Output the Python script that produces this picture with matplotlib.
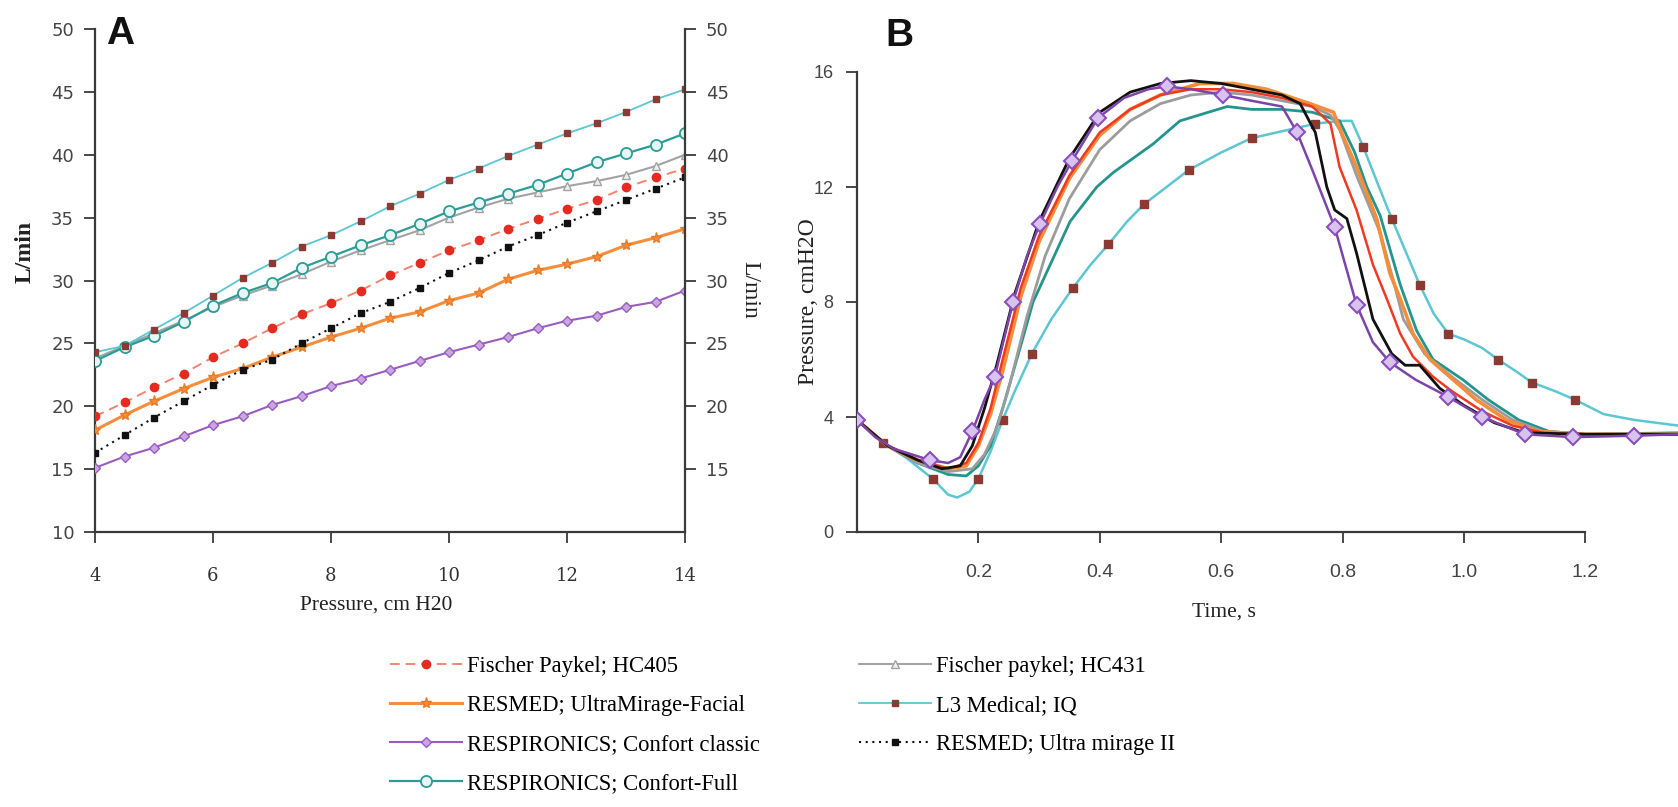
import numpy as np
import matplotlib
matplotlib.use("Agg")
import matplotlib.pyplot as plt

# ---------------- Panel A: leak flow vs pressure ----------------
pressure = [4.0, 4.5, 5.0, 5.5, 6.0, 6.5, 7.0, 7.5, 8.0, 8.5, 9.0,
            9.5, 10.0, 10.5, 11.0, 11.5, 12.0, 12.5, 13.0, 13.5, 14.0]

fp_hc405 = [19.2, 20.3, 21.5, 22.6, 23.9, 25.0, 26.2, 27.3, 28.2, 29.2, 30.4,
            31.4, 32.4, 33.2, 34.1, 34.9, 35.7, 36.4, 37.4, 38.2, 38.9]
resmed_umf = [18.1, 19.3, 20.4, 21.4, 22.3, 23.0, 23.9, 24.7, 25.5, 26.2, 27.0,
              27.5, 28.4, 29.0, 30.1, 30.8, 31.3, 31.9, 32.8, 33.4, 34.1]
resp_classic = [15.1, 16.0, 16.7, 17.6, 18.5, 19.2, 20.1, 20.8, 21.6, 22.2, 22.9,
                23.6, 24.3, 24.9, 25.5, 26.2, 26.8, 27.2, 27.9, 28.3, 29.2]
resp_full = [23.6, 24.7, 25.6, 26.7, 28.0, 29.0, 29.8, 31.0, 31.9, 32.8, 33.6,
             34.5, 35.5, 36.2, 36.9, 37.6, 38.5, 39.4, 40.1, 40.8, 41.7]
fp_hc431 = [23.8, 24.8, 25.8, 26.8, 27.9, 28.8, 29.6, 30.5, 31.5, 32.4, 33.2,
            34.0, 35.0, 35.8, 36.5, 37.0, 37.5, 37.9, 38.4, 39.1, 40.0]
l3_iq = [24.3, 24.8, 26.1, 27.4, 28.8, 30.2, 31.4, 32.7, 33.6, 34.7, 35.9,
         36.9, 38.0, 38.9, 39.9, 40.8, 41.7, 42.5, 43.4, 44.4, 45.2]
resmed_um2 = [16.3, 17.7, 19.1, 20.4, 21.7, 22.9, 23.7, 25.0, 26.2, 27.4, 28.3,
              29.4, 30.6, 31.6, 32.7, 33.6, 34.6, 35.5, 36.4, 37.3, 38.2]

labels = ["Fischer Paykel; HC405", "RESMED; UltraMirage-Facial",
          "RESPIRONICS; Confort classic", "RESPIRONICS; Confort-Full",
          "Fischer paykel; HC431", "L3 Medical; IQ", "RESMED; Ultra mirage II"]

a_xticks = [4, 6, 8, 10, 12, 14]
a_yticks_left = [10, 15, 20, 25, 30, 35, 40, 45, 50]
a_yticks_right = [15, 20, 25, 30, 35, 40, 45, 50]

# ---------------- Panel B: pressure vs time ----------------
t_purple = [0.0, 0.03, 0.06, 0.09, 0.12, 0.15, 0.17, 0.19, 0.21, 0.227, 0.257,
            0.28, 0.301, 0.33, 0.354, 0.397, 0.44, 0.48, 0.51, 0.55, 0.603, 0.65,
            0.70, 0.725, 0.75, 0.787, 0.823, 0.85, 0.878, 0.92, 0.974, 1.03,
            1.1, 1.18, 1.28, 1.353]
p_purple = [3.9, 3.3, 2.9, 2.7, 2.5, 2.4, 2.6, 3.5, 4.6, 5.4, 8.0,
            9.6, 10.7, 12.0, 12.9, 14.4, 15.1, 15.4, 15.5, 15.4, 15.2, 15.0,
            14.8, 13.9, 12.6, 10.6, 7.9, 6.6, 5.9, 5.3, 4.7, 4.0,
            3.4, 3.3, 3.35, 3.4]
t_purple_marks = [0.0, 0.12, 0.19, 0.227, 0.257, 0.301, 0.354, 0.397, 0.51,
                  0.603, 0.725, 0.787, 0.823, 0.878, 0.974, 1.03, 1.1, 1.18, 1.28]

t_black = [0.0, 0.05, 0.1, 0.14, 0.17, 0.19, 0.21, 0.23, 0.26, 0.3, 0.35, 0.4,
           0.45, 0.5, 0.55, 0.6, 0.65, 0.7, 0.73, 0.755, 0.774, 0.787, 0.807,
           0.823, 0.85, 0.881, 0.903, 0.927, 0.96, 1.0, 1.05, 1.1, 1.2, 1.353]
p_black = [3.9, 3.0, 2.5, 2.2, 2.3, 3.0, 4.3, 5.8, 8.3, 10.8, 13.0, 14.6,
           15.3, 15.6, 15.7, 15.6, 15.4, 15.2, 14.9, 13.9, 12.0, 11.2, 10.9,
           9.7, 7.4, 6.2, 5.8, 5.8, 5.0, 4.4, 3.8, 3.45, 3.4, 3.4]

t_red = [0.0, 0.05, 0.1, 0.15, 0.18, 0.2, 0.22, 0.24, 0.27, 0.3, 0.35, 0.4,
         0.45, 0.5, 0.55, 0.6, 0.65, 0.7, 0.75, 0.78, 0.795, 0.823, 0.85,
         0.873, 0.895, 0.916, 0.949, 0.98, 1.03, 1.08, 1.13, 1.2, 1.353]
p_red = [3.9, 3.0, 2.5, 2.2, 2.4, 3.1, 4.3, 6.0, 8.5, 10.3, 12.4, 13.9,
         14.7, 15.2, 15.4, 15.4, 15.3, 15.1, 14.8, 14.2, 12.7, 11.2, 9.3,
         8.1, 6.9, 6.1, 5.4, 4.9, 4.2, 3.7, 3.45, 3.4, 3.4]

t_orange = [0.0, 0.05, 0.1, 0.15, 0.18, 0.2, 0.22, 0.24, 0.27, 0.3, 0.35, 0.4,
            0.45, 0.5, 0.565, 0.62, 0.675, 0.746, 0.785, 0.80, 0.823, 0.856,
            0.878, 0.895, 0.916, 0.944, 0.982, 1.02, 1.07, 1.12, 1.2, 1.353]
p_orange = [3.9, 3.0, 2.5, 2.2, 2.3, 3.0, 4.1, 5.6, 8.2, 10.1, 12.3, 13.8,
            14.7, 15.2, 15.6, 15.6, 15.4, 14.9, 14.6, 13.8, 12.7, 10.9,
            9.0, 8.1, 6.9, 6.0, 5.3, 4.6, 3.9, 3.5, 3.4, 3.4]

t_gray = [0.0, 0.05, 0.1, 0.15, 0.19, 0.21, 0.23, 0.25, 0.28, 0.31, 0.35, 0.4,
          0.45, 0.5, 0.55, 0.6, 0.65, 0.7, 0.75, 0.78, 0.795, 0.823, 0.862,
          0.883, 0.9, 0.935, 0.98, 1.03, 1.08, 1.13, 1.2, 1.353]
p_gray = [3.9, 3.0, 2.4, 2.1, 2.2, 2.7, 3.6, 5.0, 7.5, 9.6, 11.6, 13.3,
          14.3, 14.9, 15.2, 15.3, 15.2, 15.0, 14.8, 14.5, 14.0, 12.4, 10.4,
          8.8, 7.4, 6.2, 5.4, 4.6, 3.9, 3.5, 3.4, 3.4]

t_teal = [0.0, 0.05, 0.1, 0.15, 0.18, 0.2, 0.22, 0.24, 0.27, 0.29, 0.351,
          0.395, 0.422, 0.488, 0.532, 0.61, 0.65, 0.7, 0.75, 0.795, 0.82,
          0.84, 0.862, 0.895, 0.922, 0.949, 0.998, 1.04, 1.09, 1.14, 1.2, 1.353]
p_teal = [3.9, 3.0, 2.4, 2.0, 1.95, 2.3, 3.0, 4.3, 6.5, 8.0, 10.8,
          12.0, 12.5, 13.5, 14.3, 14.8, 14.7, 14.7, 14.6, 14.3, 13.2,
          12.0, 11.0, 8.6, 7.0, 6.0, 5.3, 4.6, 3.9, 3.5, 3.4, 3.45]

t_cyan = [0.0, 0.043, 0.08, 0.125, 0.15, 0.165, 0.185, 0.2, 0.22, 0.24, 0.26,
          0.288, 0.32, 0.356, 0.385, 0.414, 0.445, 0.473, 0.51, 0.547, 0.6,
          0.65, 0.713, 0.755, 0.795, 0.815, 0.834, 0.86, 0.881, 0.905, 0.927,
          0.95, 0.974, 1.0, 1.03, 1.056, 1.085, 1.112, 1.15, 1.183, 1.23,
          1.28, 1.353]
p_cyan = [3.9, 3.1, 2.6, 1.85, 1.3, 1.2, 1.4, 1.85, 2.8, 3.9, 4.9,
          6.2, 7.4, 8.5, 9.3, 10.0, 10.8, 11.4, 12.0, 12.6, 13.2,
          13.7, 14.0, 14.2, 14.3, 14.3, 13.4, 12.0, 10.9, 9.7, 8.6,
          7.6, 6.9, 6.7, 6.4, 6.0, 5.6, 5.2, 4.9, 4.6, 4.1,
          3.9, 3.7]
t_cyan_marks = [0.0, 0.043, 0.125, 0.2, 0.24, 0.288, 0.356, 0.414, 0.473,
                0.547, 0.65, 0.755, 0.834, 0.881, 0.927, 0.974, 1.056, 1.112,
                1.183]

b_xticks = [0.2, 0.4, 0.6, 0.8, 1.0, 1.2]
b_yticks = [0, 4, 8, 12, 16]

# ---------------- figure layout ----------------
W, H = 1678, 807
fig = plt.figure(figsize=(W / 100, H / 100), dpi=100)
fig.patch.set_facecolor("white")


def fx(px):
    return px / W


def fy(py):
    return 1 - py / H


SERIF = ["Liberation Serif", "DejaVu Serif"]
SANS = ["Liberation Sans", "DejaVu Sans"]
AXC = "#3a3a3a"
TXT = "#333333"

axA = fig.add_axes([fx(95), fy(532), (685 - 95) / W, (532 - 29) / H])
axB = fig.add_axes([fx(857), fy(532), (W - 857) / W, (532 - 72) / H])

# colours
c_red, c_red_line = "#e52b20", "#f2836f"
c_orange = "#f58d3b"
c_purple, c_purple_face = "#9a5cc0", "#c8a6e2"
c_teal = "#2c9c96"
c_gray = "#a3a3a3"
c_cyan, c_brown = "#5cc6d2", "#8a3a32"
c_black = "#111111"

# ---- Panel A curves ----
hA = []
hA.append(axA.plot(pressure, fp_hc405, ls=(0, (5, 3)), color=c_red_line, lw=1.4,
                   marker="o", ms=6, mfc=c_red, mec=c_red, zorder=4)[0])
hA.append(axA.plot(pressure, resmed_umf, ls="-", color=c_orange, lw=2.2,
                   marker="*", ms=8, mfc=c_orange, mec="#e87a28", zorder=3)[0])
hA.append(axA.plot(pressure, resp_classic, ls="-", color=c_purple, lw=1.5,
                   marker="D", ms=5, mfc=c_purple_face, mec=c_purple, zorder=3)[0])
hA.append(axA.plot(pressure, resp_full, ls="-", color=c_teal, lw=1.6,
                   marker="o", ms=8, mfc="#e8f6f5", mec=c_teal, mew=1.3, zorder=3)[0])
hA.append(axA.plot(pressure, fp_hc431, ls="-", color=c_gray, lw=1.5,
                   marker="^", ms=6, mfc="#eeeeee", mec=c_gray, zorder=2)[0])
hA.append(axA.plot(pressure, l3_iq, ls="-", color=c_cyan, lw=1.3,
                   marker="s", ms=5, mfc=c_brown, mec=c_brown, zorder=3)[0])
hA.append(axA.plot(pressure, resmed_um2, ls=(0, (1, 2.2)), color=c_black, lw=1.5,
                   marker="s", ms=5, mfc=c_black, mec=c_black, zorder=4)[0])

axA.set_xlim(4, 14)
axA.set_ylim(10, 50)
axA.set_xticks(a_xticks)
axA.set_yticks(a_yticks_left)
axA.spines["top"].set_visible(False)
axA.spines["right"].set_visible(False)
for s in ("left", "bottom"):
    axA.spines[s].set_color(AXC)
    axA.spines[s].set_linewidth(1.6)
axA.tick_params(axis="y", direction="out", length=8, width=1.3, color=AXC,
                pad=7, labelsize=13, labelcolor="#444444")
axA.tick_params(axis="x", direction="out", length=8, width=1.3, color=AXC,
                pad=17, labelsize=13, labelcolor=TXT)
for lab in axA.get_yticklabels():
    lab.set_fontfamily(["DejaVu Sans"])
for lab in axA.get_xticklabels():
    lab.set_fontfamily(["DejaVu Serif"])

axA2 = axA.twinx()
axA2.set_ylim(10, 50)
axA2.set_yticks(a_yticks_right)
for s in ("left", "top", "bottom"):
    axA2.spines[s].set_visible(False)
axA2.spines["right"].set_color(AXC)
axA2.spines["right"].set_linewidth(1.6)
axA2.tick_params(axis="y", direction="out", length=8, width=1.3, color=AXC,
                 pad=7, labelsize=13, labelcolor="#444444")
for lab in axA2.get_yticklabels():
    lab.set_fontfamily(["DejaVu Sans"])

# ---- Panel B curves ----
def plot_b(t, p, **kw):
    return axB.plot(t, p, **kw)[0]


plot_b(t_cyan, p_cyan, color=c_cyan, lw=1.8, zorder=2,
       marker="s", ms=6, mfc=c_brown, mec=c_brown,
       markevery=list(np.nonzero(np.isin(t_cyan, t_cyan_marks))[0]))
plot_b(t_teal, p_teal, color="#23958c", lw=2.0, zorder=3)
plot_b(t_gray, p_gray, color="#9c9c9c", lw=2.0, zorder=3)
plot_b(t_orange, p_orange, color=c_orange, lw=2.6, zorder=4)
plot_b(t_red, p_red, color="#ef3a22", lw=1.8, zorder=5)
plot_b(t_black, p_black, color=c_black, lw=2.0, zorder=5)
plot_b(t_purple, p_purple, color="#7d44a8", lw=1.8, zorder=6,
       marker="D", ms=8, mfc="#d8c3ee", mec="#8a4fbf", mew=1.5,
       markevery=list(np.nonzero(np.isin(t_purple, t_purple_marks))[0]))

axB.set_xlim(0, (W - 857) / 607)
axB.set_ylim(0, 16)
axB.set_xticks(b_xticks)
axB.set_xticklabels(["0.2", "0.4", "0.6", "0.8", "1.0", "1.2"])
axB.set_yticks(b_yticks)
axB.spines["top"].set_visible(False)
axB.spines["right"].set_visible(False)
axB.spines["bottom"].set_bounds(0, 1.2)
for s in ("left", "bottom"):
    axB.spines[s].set_color(AXC)
    axB.spines[s].set_linewidth(1.6)
axB.tick_params(axis="y", direction="out", length=8, width=1.3, color=AXC,
                pad=9, labelsize=13, labelcolor="#444444")
axB.tick_params(axis="x", direction="out", length=8, width=1.3, color=AXC,
                pad=15, labelsize=14, labelcolor="#444444")
for lab in axB.get_xticklabels() + axB.get_yticklabels():
    lab.set_fontfamily(SANS)

# ---- labels ----
fig.text(fx(25), fy(252), "L/min", rotation=90, ha="center", va="center",
         fontsize=17, fontweight="bold", family=SERIF, color="#222222")
fig.text(fx(750), fy(290), "L/min", rotation=270, ha="center", va="center",
         fontsize=17, family=SERIF, color="#222222")
fig.text(fx(376), fy(605), "Pressure, cm H20", ha="center", va="center",
         fontsize=15.5, family=SERIF, color="#222222")
fig.text(fx(808), fy(302), "Pressure, cmH2O", rotation=90, ha="center",
         va="center", fontsize=17, family=SERIF, color="#222222")
fig.text(fx(1224), fy(612), "Time, s", ha="center", va="center",
         fontsize=15.5, family=SERIF, color="#222222")
fig.text(fx(106), fy(34), "A", ha="left", va="center", fontsize=28,
         fontweight="bold", family=SANS, color="#111111")
fig.text(fx(885), fy(36), "B", ha="left", va="center", fontsize=28,
         fontweight="bold", family=SANS, color="#111111")

# ---- legend ----
fig.legend(hA, labels, loc="upper left", bbox_to_anchor=(fx(390), fy(656)),
           ncol=2, frameon=False, handlelength=3.2, handletextpad=0.22,
           columnspacing=4.35, labelspacing=0.8, borderpad=0, borderaxespad=0,
           prop={"family": SERIF, "size": 16.3})

fig.savefig("out.png", dpi=100, facecolor="white")
